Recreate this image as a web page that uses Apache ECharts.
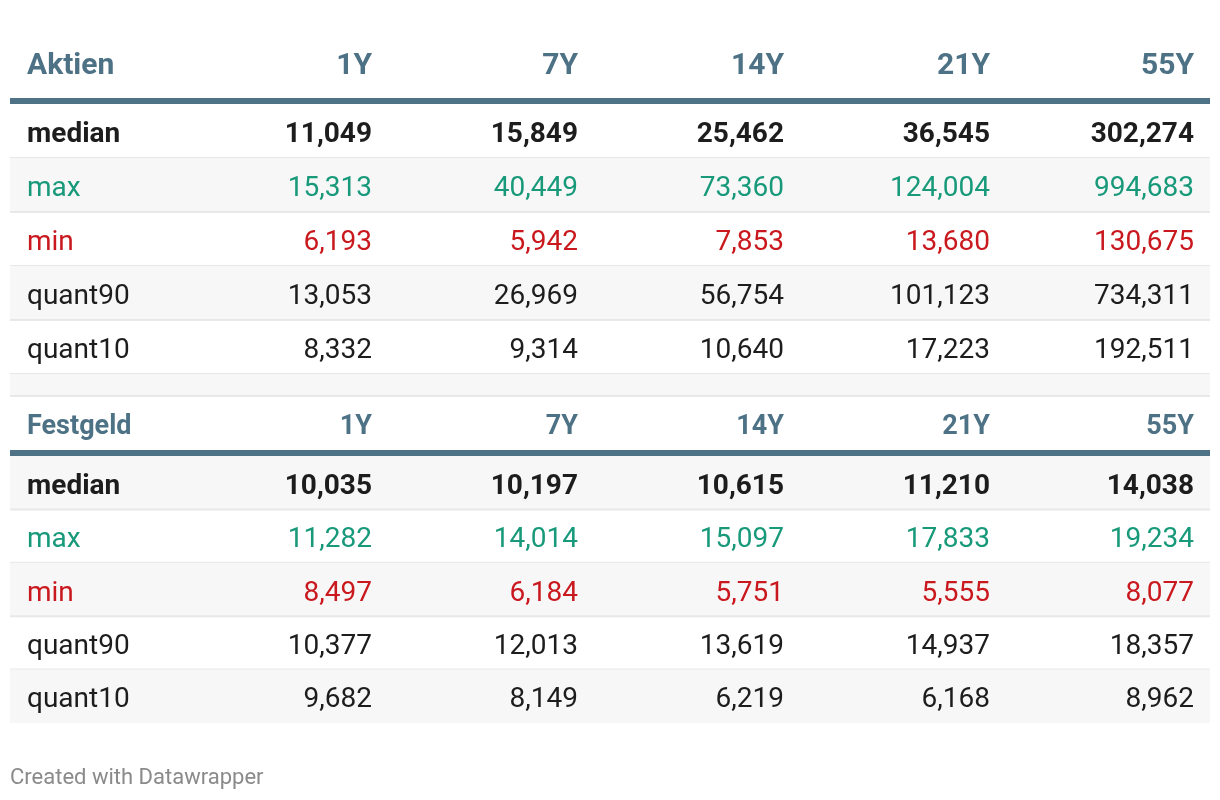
<!DOCTYPE html>
<html>
<head>
<meta charset="utf-8">
<style>
  html, body { margin: 0; padding: 0; background: #fff; }
  #main { width: 1220px; height: 800px; }
</style>
<script src="https://cdn.jsdelivr.net/npm/echarts@6/dist/echarts.min.js"></script>
</head>
<body>
<div id="main"></div>
<script>
// column headers and row names
var columns = ['1Y', '7Y', '14Y', '21Y', '55Y'];
var rowNames = ['median', 'max', 'min', 'quant90', 'quant10'];

// Aktien
var aktienMedian  = [11049, 15849, 25462, 36545, 302274];
var aktienMax     = [15313, 40449, 73360, 124004, 994683];
var aktienMin     = [6193, 5942, 7853, 13680, 130675];
var aktienQuant90 = [13053, 26969, 56754, 101123, 734311];
var aktienQuant10 = [8332, 9314, 10640, 17223, 192511];

// Festgeld
var festgeldMedian  = [10035, 10197, 10615, 11210, 14038];
var festgeldMax     = [11282, 14014, 15097, 17833, 19234];
var festgeldMin     = [8497, 6184, 5751, 5555, 8077];
var festgeldQuant90 = [10377, 12013, 13619, 14937, 18357];
var festgeldQuant10 = [9682, 8149, 6219, 6168, 8962];

var tables = [
  { name: 'Aktien', rows: [aktienMedian, aktienMax, aktienMin, aktienQuant90, aktienQuant10] },
  { name: 'Festgeld', rows: [festgeldMedian, festgeldMax, festgeldMin, festgeldQuant90, festgeldQuant10] }
];

// layout (pixels of the 1220x800 grid)
var labelX = 27;
var colRight = [372, 578, 784, 990, 1194];
var tableLeft = 10, tableRight = 1210;
var headColor = '#4e7285';
var rowColors = { median: '#1d1d1d', max: '#17997a', min: '#c9191e', quant90: '#1d1d1d', quant10: '#1d1d1d' };

// build row items top to bottom
var items = [];
var y = 28, stripe = 0;
tables.forEach(function (t, ti) {
  if (ti > 0) {
    items.push({ kind: 'spacer', top: y, h: 22, grey: stripe++ % 2 === 1 });
    y += 22;
  }
  var hh = ti === 0 ? 70 : 54;
  items.push({ kind: 'header', top: y, h: hh, title: t.name, size: ti === 0 ? 30 : 27,
               textOff: ti === 0 ? 35 : 26,
               grey: ti === 0 ? false : stripe++ % 2 === 1 });
  y += hh;
  items.push({ kind: 'rule', top: y, h: 6 });
  y += 6;
  var rh = ti === 0 ? 54 : 53.4;
  t.rows.forEach(function (vals, ri) {
    items.push({ kind: 'row', top: y, h: rh, name: rowNames[ri], values: vals,
                 grey: stripe++ % 2 === 1,
                 sep: !(ti === tables.length - 1 && ri === t.rows.length - 1) });
    y += rh;
  });
});

function fmt(v) { return echarts.format.addCommas(v); }

function renderItem(params, api) {
  var it = items[params.dataIndex];
  var p0 = api.coord([tableLeft, it.top]);
  var p1 = api.coord([tableRight, it.top + it.h]);
  var w = p1[0] - p0[0], h = p1[1] - p0[1];
  var cy = p0[1] + h / 2;
  var children = [];
  if (it.kind === 'rule') {
    children.push({ type: 'rect', shape: { x: p0[0], y: p0[1], width: w, height: h }, style: { fill: '#4f7386' } });
    return { type: 'group', children: children };
  }
  if (it.grey) {
    children.push({ type: 'rect', shape: { x: p0[0], y: p0[1], width: w, height: h }, style: { fill: '#f7f7f7' } });
  }
  if (it.kind === 'spacer') {
    children.push({ type: 'rect', shape: { x: p0[0], y: p1[1] - 1, width: w, height: 2 }, style: { fill: '#e8e8e8' } });
    return { type: 'group', children: children };
  }
  var textY = it.kind === 'header' ? p1[1] - it.textOff + 3 : cy + 4;
  var size = it.kind === 'header' ? it.size : 28;
  var weight = (it.kind === 'header' || it.name === 'median') ? 'bold' : 'normal';
  var color = it.kind === 'header' ? headColor : rowColors[it.name];
  children.push({ type: 'text', style: {
    text: it.kind === 'header' ? it.title : it.name,
    x: api.coord([labelX, 0])[0], y: textY, align: 'left', verticalAlign: 'middle',
    fontFamily: 'Roboto', fontSize: size, fontWeight: weight, fill: color } });
  for (var c = 0; c < columns.length; c++) {
    children.push({ type: 'text', style: {
      text: it.kind === 'header' ? columns[c] : fmt(it.values[c]),
      x: api.coord([colRight[c], 0])[0], y: textY, align: 'right', verticalAlign: 'middle',
      fontFamily: 'Roboto', fontSize: size, fontWeight: weight, fill: color } });
  }
  if (it.kind === 'row' && it.sep) {
    children.push({ type: 'rect', shape: { x: p0[0], y: p1[1] - 1, width: w, height: 2 }, style: { fill: '#e8e8e8' } });
  }
  return { type: 'group', children: children };
}

var myChart = echarts.init(document.getElementById('main'));

var option = {
  animation: false,
  backgroundColor: '#ffffff',
  title: {
    text: 'Created with Datawrapper',
    left: 10,
    top: 767,
    padding: 0,
    textStyle: { fontFamily: 'Roboto', fontSize: 22, fontWeight: 'normal', color: '#8a8a8a' }
  },
  grid: { left: 0, right: 0, top: 0, bottom: 0 },
  xAxis: { type: 'value', min: 0, max: 1220, show: false },
  yAxis: { type: 'value', min: 0, max: 800, inverse: true, show: false },
  series: [{
    type: 'custom',
    coordinateSystem: 'cartesian2d',
    renderItem: renderItem,
    encode: { x: 0, y: 1 },
    data: items.map(function (it, i) { return [tableLeft, it.top, i]; })
  }]
};

myChart.setOption(option);
</script>
</body>
</html>
